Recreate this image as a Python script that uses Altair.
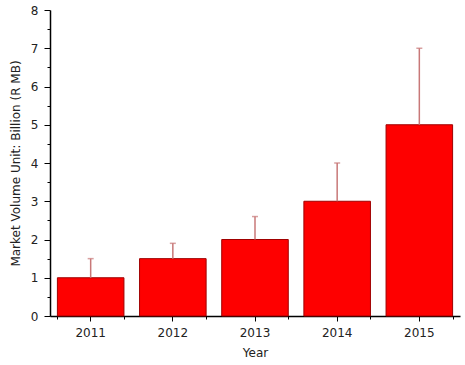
import altair as alt
import pandas as pd

years = ["2011", "2012", "2013", "2014", "2015"]
values = [1.0, 1.5, 2.0, 3.0, 5.0]
errors = [0.5, 0.4, 0.6, 1.0, 2.0]

df = pd.DataFrame({"year": years, "value": values, "err": errors})
df["top"] = df["value"] + df["err"]

FONT = "DejaVu Sans"

xscale = alt.Scale(paddingInner=0.19, paddingOuter=0.09)
yscale = alt.Scale(domain=[0, 8], nice=False)

x_main = alt.X("year:N", scale=xscale, sort=years,
               axis=alt.Axis(title="Year", labelAngle=0, tickSize=5, tickColor="black",
                             tickWidth=1, domainColor="black", domainWidth=1.5,
                             labelPadding=6, titlePadding=9, labelFontSize=12,
                             titleFontSize=12, labelFont=FONT, titleFont=FONT,
                             labelColor="#222", titleColor="#222", titleFontWeight="normal"))
y_main = alt.Y("value:Q", scale=yscale,
               axis=alt.Axis(title="Market Volume Unit: Billion (R MB)",
                             values=[i * 0.5 for i in range(17)],
                             labelExpr="datum.value % 1 === 0 ? format(datum.value, 'd') : ''",
                             labelOverlap=False,
                             tickSize={"condition": {"test": "datum.value % 1 !== 0", "value": 3}, "value": 6},
                             tickColor="black", domainColor="black", domainWidth=1.5,
                             grid=False, labelPadding=6, titlePadding=8, labelFontSize=12,
                             titleFontSize=12, labelFont=FONT, titleFont=FONT,
                             labelColor="#222", titleColor="#222", titleFontWeight="normal",
                             orient="left"))

bars = alt.Chart(df).mark_bar(color="#fe0000", stroke="#a00000", strokeWidth=1).encode(
    x=x_main, y=y_main)

err = alt.Chart(df).mark_rule(color="#c87878", strokeWidth=1.5).encode(
    x=alt.X("year:N", scale=xscale, sort=years, axis=None),
    y=alt.Y("value:Q", scale=yscale, axis=None),
    y2="top:Q")

cap = alt.Chart(df).mark_tick(color="#c87878", size=6, thickness=1.5).encode(
    x=alt.X("year:N", scale=xscale, sort=years, axis=None),
    y=alt.Y("top:Q", scale=yscale, axis=None))

minor_x = alt.Chart(df).mark_point(opacity=0).encode(
    x=alt.X("year:N", scale=xscale, sort=years,
            axis=alt.Axis(title=None, labels=False, tickBand="extent", tickSize=3,
                          tickColor="black", domain=False, grid=False, orient="bottom")),
    y=alt.Y("value:Q", scale=yscale, axis=None))

chart = alt.layer(bars, err, cap, minor_x).resolve_axis(
    x="independent", y="independent"
).properties(
    width=410, height=306,
    background="white",
    autosize=alt.AutoSizeParams(type="none"),
    padding={"left": 50, "top": 10, "right": 5, "bottom": 49},
).configure_view(strokeWidth=0, stroke=None)

chart.save("out.html", embed_options={"renderer": "svg", "actions": False})
